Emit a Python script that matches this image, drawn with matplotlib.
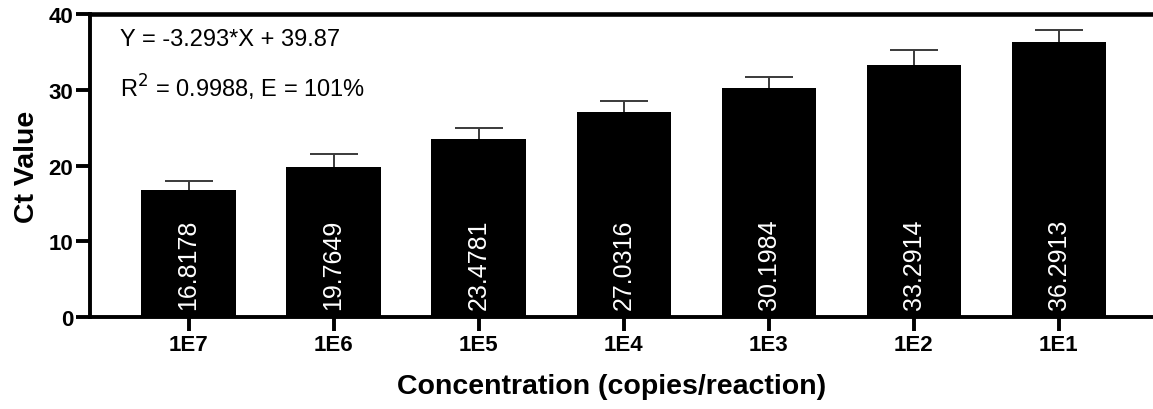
import matplotlib.pyplot as plt

plt.rcParams['font.family'] = ['Liberation Sans', 'DejaVu Sans']

# data
concentrations = ["1E7", "1E6", "1E5", "1E4", "1E3", "1E2", "1E1"]
ct_mean = [16.8178, 19.7649, 23.4781, 27.0316, 30.1984, 33.2914, 36.2913]
ct_sd = [1.1, 1.75, 1.45, 1.5, 1.45, 1.95, 1.65]
equation = "Y = -3.293*X + 39.87"
fit_stats = r"R$^2$ = 0.9988, E = 101%"

fig = plt.figure(figsize=(11.53, 4.10), dpi=100)
ax = fig.add_axes([0.078, 0.2244, 0.922, 0.7386])

x = list(range(len(concentrations)))
ax.bar(x, ct_mean, width=0.65, color="black", zorder=2)
eb = ax.errorbar(x, ct_mean, yerr=[[0] * len(ct_sd), ct_sd], fmt="none",
                 ecolor="#3a3a3a", elinewidth=1.4, capsize=17, capthick=1.4, zorder=1)
# only the upper cap is shown
eb[1][0].set_visible(False)

# value labels inside bars
for xi, v in zip(x, ct_mean):
    ax.text(xi, 1.0, f"{v:.4f}", rotation=90, color="white", fontsize=18,
            ha="center", va="bottom", zorder=3)

ax.text(0.028, 0.917, equation, transform=ax.transAxes, fontsize=17, va="center")
ax.text(0.028, 0.759, fit_stats, transform=ax.transAxes, fontsize=17, va="center")

ax.set_xlim(-0.68, 6.65)
ax.set_ylim(0, 40)
ax.set_yticks([0, 10, 20, 30, 40])
ax.set_xticks(x)
ax.set_xticklabels(concentrations)

for lab in ax.get_xticklabels() + ax.get_yticklabels():
    lab.set_fontweight("bold")
    lab.set_fontsize(16)

ax.tick_params(axis="both", direction="out", length=10, width=2.8, pad=2)

ax.spines["right"].set_visible(False)
for s in ["left", "bottom"]:
    ax.spines[s].set_linewidth(2.8)
ax.spines["top"].set_linewidth(3.3)

ax.set_ylabel("Ct Value", fontsize=20.5, fontweight="bold", labelpad=6)
ax.set_xlabel("Concentration (copies/reaction)", fontsize=20.5, fontweight="bold")
ax.xaxis.set_label_coords(0.491, -0.185)

plt.savefig("out.png", dpi=100)
